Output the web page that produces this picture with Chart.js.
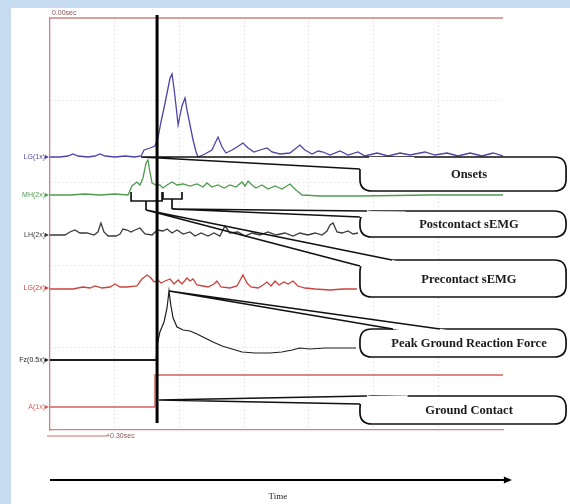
<!DOCTYPE html>
<html>
<head>
<meta charset="utf-8">
<script src="https://cdn.jsdelivr.net/npm/chart.js@4.4.1/dist/chart.umd.min.js"></script>
<style>
  html, body { margin: 0; padding: 0; background: #c6dbf0; }
  #wrap { width: 570px; height: 504px; }
</style>
</head>
<body>
<div id="wrap"><canvas id="emgChart" width="570" height="504"></canvas></div>
<script>
// time in ms, amplitudes in display units (channels stacked on their baselines)
const lg1Time = [0,46,83,106,129,175,208,231,254,300,346,392,420,434,461,484,498,512,526,540,554,563,572,581,591,600,609,623,632,646,660,674,683,715,747,775,794,812,840,863,890,914,941,969,1001,1024,1061,1107,1153,1176,1209,1237,1260,1292,1338,1375,1421,1453,1509,1560,1615,1661,1730,1776,1832,1882,1938,1993,2044,2090];
const lg1Amp = [273,273,274,276,274,273,274,276,274,273,274,273,274,280,282,284,292,308,322,337,352,356,342,325,305,315,324,332,320,305,290,278,273,276,280,293,283,277,280,283,287,282,278,280,282,278,276,277,285,280,276,279,278,275,279,275,278,274,277,274,277,275,278,275,277,274,277,274,277,274];

const mhTime = [0,92,161,231,300,360,378,401,415,429,443,452,461,471,489,507,521,540,563,586,614,646,678,706,724,747,775,803,830,858,886,900,914,932,950,978,1006,1038,1070,1107,1135,1163,1246,1430,1753,2090];
const mhAmp = [235,235,236,235,236,235,244,248,245,252,267,270,258,247,245,245,242,245,248,245,246,244,246,243,247,243,245,242,245,243,248,244,249,245,242,245,241,244,241,246,240,235,234,234,235,235];

const lhTime = [0,69,92,115,138,171,203,221,235,249,268,305,323,337,355,374,392,415,438,471,494,521,540,563,586,614,646,669,697,729,757,784,807,830,867,900,932,969,1006,1043,1084,1121,1153,1190,1223,1255,1278,1292,1306,1324,1347,1375,1398,1421];
const lhAmp = [195,195,198,200,197,197,195,198,207,198,194,194,196,201,200,198,200,202,196,195,200,199,201,197,200,196,198,194,197,194,197,194,204,197,198,194,197,195,198,195,197,194,197,195,197,195,199,205,207,198,197,199,196,197];

const lg2Time = [0,106,152,185,208,240,277,300,323,355,401,424,448,466,480,498,512,531,554,572,591,609,632,646,660,678,706,729,757,770,789,830,863,890,909,927,960,983,1001,1020,1038,1057,1080,1098,1121,1144,1176,1223,1292,1352,1416];
const lg2Amp = [141,141,143,142,144,142,143,146,143,143,144,151,155,152,148,150,147,149,151,146,150,146,152,149,151,145,144,143,146,149,143,142,144,155,147,143,142,145,148,144,149,145,148,146,149,144,142,141,140,141,141];

const fzTime = [0,490,494,507,526,540,549,558,568,586,614,646,678,715,752,794,840,886,946,1015,1070,1117,1153,1200,1269,1338,1412];
const fzAmp = [70,70,85,98,108,122,139,124,112,103,100,99,96,92,88,84,81,78,77,77,78,80,82,81,82,82,82];

const accTime = [0,482,484,2090];
const accAmp = [23,23,55,55];

const channelNames = ['LG(1x)', 'MH(2x)', 'LH(2x)', 'LG(2x)', 'Fz(0.5x)', 'A(1x)'];
const channelBase = [273, 235, 195, 142, 70, 23];
const channelColors = ['#4c45a8', '#4f9c4f', '#3a3a3a', '#c9433f', '#1e1e1e', '#d2615c'];

const contactMs = 494;
const gridStepMs = 300;

// callouts: text, box top/bottom and where the tail starts and joins the box
const calloutText = ['Onsets', 'Postcontact sEMG', 'Precontact sEMG', 'Peak Ground Reaction Force', 'Ground Contact'];
const calloutTop = [273, 219, 170, 101, 34];
const calloutBottom = [239, 193, 133, 73, 6];
const calloutTip = [[420, 273], [563, 221], [443, 220], [549, 139], [503, 30]];
const calloutJoinA = [[1472, 273], [1462, 219], [1578, 170], [1799, 101], [1462, 34]];
const calloutJoinB = [[1430, 261], [1430, 213], [1430, 164], [1582, 101], [1430, 26]];
const calloutLeft = 1430;
const calloutRight = 2381;

function toPoints(xs, ys) {
    return xs.map((x, i) => ({ x: x, y: ys[i] }));
}

function roundRect(c, x0, y0, x1, y1, r) {
    c.beginPath();
    c.moveTo(x0 + r, y0);
    c.lineTo(x1 - r, y0);
    c.quadraticCurveTo(x1, y0, x1, y0 + r);
    c.lineTo(x1, y1 - r);
    c.quadraticCurveTo(x1, y1, x1 - r, y1);
    c.lineTo(x0 + r, y1);
    c.quadraticCurveTo(x0, y1, x0, y1 - r);
    c.lineTo(x0, y0 + r);
    c.quadraticCurveTo(x0, y0, x0 + r, y0);
    c.closePath();
}

const figurePlugin = {
    id: 'figure',
    beforeDraw(chart) {
        const c = chart.ctx;
        c.save();
        c.fillStyle = '#c6dbf0';
        c.fillRect(0, 0, chart.width, chart.height);
        c.fillStyle = '#ffffff';
        c.fillRect(11, 8, chart.width - 11, chart.height - 8);
        c.restore();
    },
    afterDatasetsDraw(chart) {
        const c = chart.ctx;
        const xs = chart.scales.x, ys = chart.scales.y;
        const px = v => xs.getPixelForValue(v);
        const py = v => ys.getPixelForValue(v);
        const area = chart.chartArea;

        c.save();
        // top border
        c.strokeStyle = '#c98585';
        c.lineWidth = 1.3;
        c.beginPath();
        c.moveTo(area.left, area.top);
        c.lineTo(area.right, area.top);
        c.stroke();

        c.font = '7px "Liberation Sans"';
        c.fillStyle = '#8a5555';
        c.textBaseline = 'bottom';
        c.fillText('0.00sec', area.left + 2, area.top - 1);

        // 0.30 sec marker under the axis
        const markY = area.bottom + 6;
        c.strokeStyle = '#c97070';
        c.lineWidth = 1;
        c.beginPath();
        c.moveTo(area.left - 3, markY);
        c.lineTo(px(gridStepMs) - 8, markY);
        c.stroke();
        c.fillStyle = '#8a5555';
        c.textBaseline = 'middle';
        c.fillText('+0.30sec', px(gridStepMs) - 9, markY + 0.5);

        // channel labels
        c.textAlign = 'right';
        channelNames.forEach((name, i) => {
            const y = py(channelBase[i]);
            c.fillStyle = channelColors[i];
            c.font = '7px "Liberation Sans"';
            c.fillText(name, area.left - 5, y);
            c.beginPath();
            c.moveTo(area.left - 5, y - 2);
            c.lineTo(area.left - 1, y);
            c.lineTo(area.left - 5, y + 2);
            c.fill();
        });

        // brackets under the MH burst
        c.strokeStyle = '#111';
        c.lineWidth = 1.7;
        c.beginPath();
        c.moveTo(px(374), py(238)); c.lineTo(px(374), py(229)); c.lineTo(px(517), py(229)); c.lineTo(px(517), py(238));
        c.moveTo(px(443), py(229)); c.lineTo(px(443), py(220));
        c.moveTo(px(521), py(238)); c.lineTo(px(521), py(231)); c.lineTo(px(609), py(231)); c.lineTo(px(609), py(238));
        c.moveTo(px(563), py(231)); c.lineTo(px(563), py(221));
        c.stroke();

        // ground contact line
        c.lineWidth = 3;
        c.strokeStyle = '#000';
        c.beginPath();
        c.moveTo(px(contactMs), py(415));
        c.lineTo(px(contactMs), py(7));
        c.stroke();

        // callouts
        const bx0 = px(calloutLeft), bx1 = px(calloutRight);
        calloutText.forEach((text, i) => {
            const by0 = py(calloutTop[i]), by1 = py(calloutBottom[i]);
            const tip = { x: px(calloutTip[i][0]), y: py(calloutTip[i][1]) };
            const a = { x: px(calloutJoinA[i][0]), y: py(calloutJoinA[i][1]) };
            const b = { x: px(calloutJoinB[i][0]), y: py(calloutJoinB[i][1]) };
            const r = Math.min(12, (by1 - by0) / 2);
            roundRect(c, bx0, by0, bx1, by1, r);
            c.fillStyle = '#fff';
            c.fill();
            c.strokeStyle = '#111';
            c.lineWidth = 1.7;
            c.stroke();
            // open the border where the tail joins
            const ext = p => ({ x: p.x + (p.x - tip.x) * 0.2, y: p.y + (p.y - tip.y) * 0.2 });
            const ea = ext(a), eb = ext(b);
            c.save();
            c.beginPath();
            c.moveTo(tip.x, tip.y); c.lineTo(ea.x, ea.y); c.lineTo(eb.x, eb.y); c.closePath();
            c.clip();
            roundRect(c, bx0 - 2, by0 - 2, bx1 + 2, by1 + 2, r);
            c.fillStyle = '#fff';
            c.fill();
            c.restore();
            c.beginPath();
            c.moveTo(a.x, a.y); c.lineTo(tip.x, tip.y); c.lineTo(b.x, b.y);
            c.stroke();
            c.fillStyle = '#1a1a1a';
            c.font = 'bold 12.5px "Liberation Serif"';
            c.textAlign = 'center';
            c.textBaseline = 'middle';
            c.fillText(text, (bx0 + chart.width) / 2 + 4, (by0 + by1) / 2 + 1);
        });

        // time arrow
        const ay = area.bottom + 50;
        const ax1 = px(2131);
        c.strokeStyle = '#000';
        c.fillStyle = '#000';
        c.lineWidth = 2;
        c.beginPath();
        c.moveTo(area.left, ay);
        c.lineTo(ax1 - 6, ay);
        c.stroke();
        c.beginPath();
        c.moveTo(ax1, ay);
        c.lineTo(ax1 - 8, ay - 3.5);
        c.lineTo(ax1 - 8, ay + 3.5);
        c.closePath();
        c.fill();
        c.font = '9px "Liberation Serif"';
        c.textAlign = 'center';
        c.textBaseline = 'middle';
        c.fillStyle = '#222';
        c.fillText('Time', (area.left + ax1) / 2 - 3, ay + 17);
        c.restore();
    }
};

const lineStyle = { pointRadius: 0, borderWidth: 1.3, tension: 0, fill: false };

new Chart(document.getElementById('emgChart'), {
    type: 'line',
    data: {
        datasets: [
            Object.assign({ label: 'LG(1x)', data: toPoints(lg1Time, lg1Amp), borderColor: channelColors[0] }, lineStyle),
            Object.assign({ label: 'MH(2x)', data: toPoints(mhTime, mhAmp), borderColor: channelColors[1] }, lineStyle),
            Object.assign({ label: 'LH(2x)', data: toPoints(lhTime, lhAmp), borderColor: channelColors[2] }, lineStyle),
            Object.assign({ label: 'LG(2x)', data: toPoints(lg2Time, lg2Amp), borderColor: channelColors[3] }, lineStyle),
            Object.assign({ label: 'Fz(0.5x)', data: toPoints(fzTime, fzAmp), borderColor: channelColors[4] }, lineStyle, {
                segment: { borderWidth: ctx => ctx.p1.parsed.x <= contactMs - 4 ? 2.2 : 1.2 }
            }),
            Object.assign({ label: 'A(1x)', data: toPoints(accTime, accAmp), borderColor: channelColors[5] }, lineStyle)
        ]
    },
    options: {
        responsive: false,
        animation: false,
        layout: { padding: { left: 50, right: 67, top: 18, bottom: 74 } },
        scales: {
            x: {
                type: 'linear',
                min: 0,
                max: 2090,
                ticks: { display: false, stepSize: gridStepMs, autoSkip: false },
                grid: {
                    drawTicks: false,
                    lineWidth: 1,
                    color: ctx => (ctx.tick && ctx.tick.value > 1 && ctx.tick.value < 2000) ? '#d6d6d6' : 'rgba(0,0,0,0)'
                },
                border: { display: true, color: '#c98585', width: 1.3, dash: [1, 3] },
                afterFit: s => { s.height = 0; }
            },
            y: {
                min: 0,
                max: 412,
                ticks: { display: false, stepSize: 82.4 },
                grid: {
                    drawTicks: false,
                    lineWidth: 1,
                    color: ctx => (ctx.tick && ctx.tick.value > 1 && ctx.tick.value < 400) ? '#d6d6d6' : 'rgba(0,0,0,0)'
                },
                border: { display: true, color: '#c98585', width: 1.3, dash: [1, 3] },
                afterFit: s => { s.width = 0; }
            }
        },
        plugins: {
            legend: { display: false },
            tooltip: { enabled: false }
        }
    },
    plugins: [figurePlugin]
});
</script>
</body>
</html>
